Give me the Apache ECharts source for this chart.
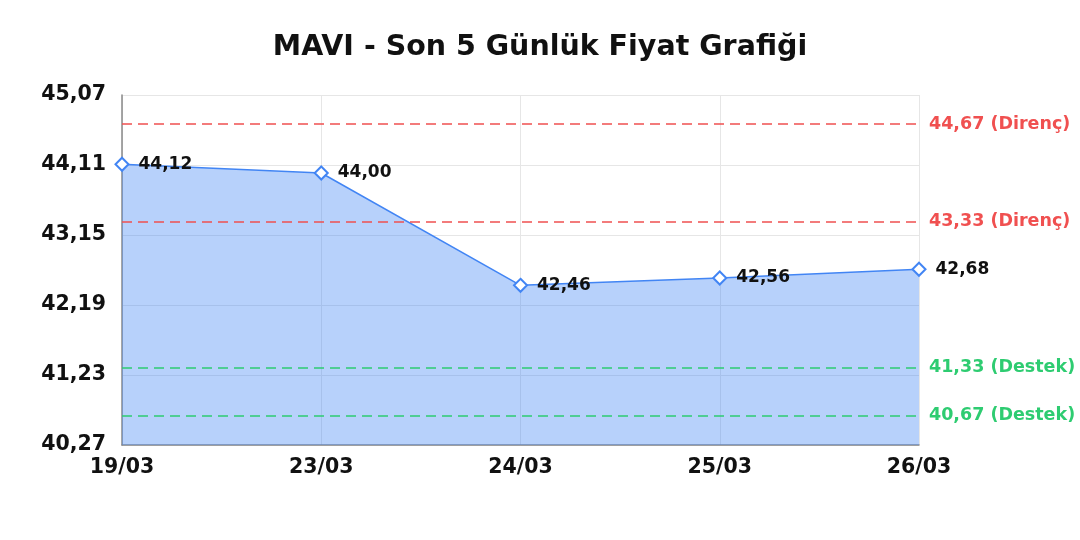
<!DOCTYPE html>
<html>
<head>
<meta charset="utf-8">
<script src="https://cdn.jsdelivr.net/npm/echarts@6/dist/echarts.min.js"></script>
<style>html,body{margin:0;padding:0;background:#fff;}#c{width:1080px;height:540px;}</style>
</head>
<body>
<div id="c"></div>
<script>
const titleText = 'MAVI - Son 5 Günlük Fiyat Grafiği';
const categories = ['19/03', '23/03', '24/03', '25/03', '26/03'];
const prices = [44.12, 44.00, 42.46, 42.56, 42.68];
const resistanceLevels = [44.67, 43.33];
const supportLevels = [41.33, 40.67];
const yMin = 40.27, yMax = 45.07, yStep = 0.96;

const fmt = v => Number(v).toFixed(2).replace('.', ',');
const FONT = '"DejaVu Sans", Verdana, sans-serif';
const RED = '#f05050';
const GREEN = '#2ecc71';

const markData = [];
resistanceLevels.forEach(v => markData.push({
  yAxis: v,
  lineStyle: { color: RED, type: [10, 6], width: 1.5, opacity: 1 },
  label: { color: RED, formatter: fmt(v) + ' (Direnç)' }
}));
supportLevels.forEach(v => markData.push({
  yAxis: v,
  lineStyle: { color: GREEN, type: [10, 6], width: 1.5, opacity: 1 },
  label: { color: GREEN, formatter: fmt(v) + ' (Destek)' }
}));

const chart = echarts.init(document.getElementById('c'), null, { renderer: 'canvas' });
chart.setOption({
  animation: false,
  backgroundColor: '#ffffff',
  title: {
    text: titleText, left: 'center', top: 28,
    textStyle: { fontFamily: FONT, fontWeight: 'bold', fontSize: 28.5, color: '#111' }
  },
  grid: { left: 122, right: 161, top: 95, bottom: 95, containLabel: false },
  xAxis: {
    type: 'category', data: categories, boundaryGap: false,
    axisLine: { show: true, lineStyle: { color: '#888', width: 1.5 } },
    axisTick: { show: false },
    axisLabel: { fontFamily: FONT, fontWeight: 'bold', fontSize: 20.5, color: '#111', margin: 12 },
    splitLine: { show: true, lineStyle: { color: '#e6e6e6', width: 1 } }
  },
  yAxis: {
    type: 'value', min: yMin, max: yMax, interval: yStep,
    axisLine: { show: true, lineStyle: { color: '#888', width: 1.5 } },
    axisTick: { show: false },
    axisLabel: { fontFamily: FONT, fontWeight: 'bold', fontSize: 20.5, color: '#111', margin: 16, padding: [5, 0, 0, 0], formatter: fmt },
    splitLine: { show: true, lineStyle: { color: '#e6e6e6', width: 1 } }
  },
  series: [{
    type: 'line', data: prices,
    symbol: 'emptyDiamond', symbolSize: 13,
    lineStyle: { color: '#4285f4', width: 1.5 },
    itemStyle: { color: '#4285f4', borderColor: '#4285f4', borderWidth: 2 },
    areaStyle: { color: '#4285f4', opacity: 0.38, origin: 'start' },
    label: {
      show: true, position: 'right', distance: 9,
      fontFamily: FONT, fontWeight: 'bold', fontSize: 17, color: '#111',
      formatter: p => fmt(p.value)
    },
    markLine: {
      silent: true, symbol: 'none',
      label: { position: 'end', distance: 10, fontFamily: FONT, fontWeight: 'bold', fontSize: 17.5 },
      data: markData
    }
  }]
});
</script>
</body>
</html>
